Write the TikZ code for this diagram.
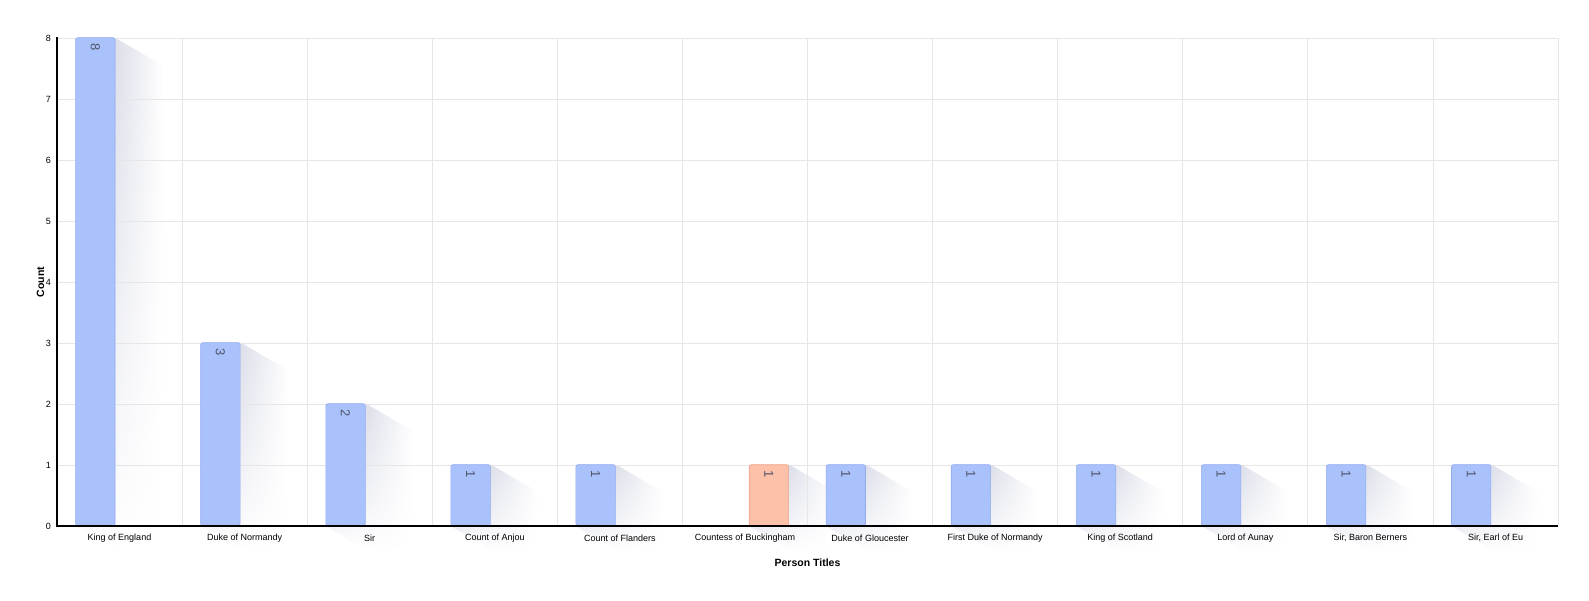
\documentclass[tikz,border=0pt]{standalone}
\usepackage{fontspec}
\setmainfont{Liberation Sans}
\usetikzlibrary{fadings}
\pgfdeclarelayer{background}
\pgfsetlayers{background,main}
\definecolor{barblue}{RGB}{170,194,252}
\definecolor{barblueline}{RGB}{147,171,238}
\definecolor{barorange}{RGB}{253,192,168}
\definecolor{barorangeline}{RGB}{238,166,140}
\definecolor{shadowcol}{RGB}{190,194,214}
\definecolor{gridcol}{RGB}{230,230,230}
\definecolor{valuecol}{RGB}{80,85,105}
\begin{document}
\begin{tikzpicture}
[x=1pt,y=-1pt,
  bardecorate/.style={draw=barblueline,fill=barblue,line width=0.6pt,rounded corners=2pt,
    minimum width=39.4pt,anchor=south,inner sep=0pt},
  orangedecorate/.style={bardecorate,draw=barorangeline,fill=barorange},
  shadowdecorate/.style={top color=shadowcol,bottom color=white,path fading=east},
  griddecorate/.style={draw=gridcol,line width=0.7pt},
  axisdecorate/.style={draw=black,line width=1.2pt},
  valuedecorate/.style={rotate=-90,inner sep=0pt,text=valuecol,font=\fontsize{13}{13}\selectfont},
  ticklabel/.style={inner sep=0pt,font=\fontsize{9}{9}\selectfont},
  titledecorate/.style={inner sep=0pt,font=\fontsize{10.5}{10.5}\selectfont\bfseries}]
\useasboundingbox (0,0) rectangle (1589,601);
% bars
\node (b1) at (95.3,526) [bardecorate,minimum height=488pt] {};
\node (b2) at (220.4,526) [bardecorate,minimum height=183pt] {};
\node (b3) at (345.5,526) [bardecorate,minimum height=122pt] {};
\node (b4) at (470.6,526) [bardecorate,minimum height=61pt] {};
\node (b5) at (595.6,526) [bardecorate,minimum height=61pt] {};
\node (b6) at (768.9,526) [orangedecorate,minimum height=61pt] {};
\node (b7) at (845.8,526) [bardecorate,minimum height=61pt] {};
\node (b8) at (970.9,526) [bardecorate,minimum height=61pt] {};
\node (b9) at (1096.0,526) [bardecorate,minimum height=61pt] {};
\node (b10) at (1221.1,526) [bardecorate,minimum height=61pt] {};
\node (b11) at (1346.1,526) [bardecorate,minimum height=61pt] {};
\node (b12) at (1471.2,526) [bardecorate,minimum height=61pt] {};
\begin{pgfonlayer}{background}
% shadows behind the bars
\shade[shadowdecorate] (b1.north east) -- ++(48,28) -- ([shift={(48,28)}]b1.south east) -- ([shift={(48,28)}]b1.south west) -- (b1.south west) -- cycle;
\shade[shadowdecorate] (b2.north east) -- ++(48,28) -- ([shift={(48,28)}]b2.south east) -- ([shift={(48,28)}]b2.south west) -- (b2.south west) -- cycle;
\shade[shadowdecorate] (b3.north east) -- ++(48,28) -- ([shift={(48,28)}]b3.south east) -- ([shift={(48,28)}]b3.south west) -- (b3.south west) -- cycle;
\shade[shadowdecorate] (b4.north east) -- ++(48,28) -- ([shift={(48,28)}]b4.south east) -- ([shift={(48,28)}]b4.south west) -- (b4.south west) -- cycle;
\shade[shadowdecorate] (b5.north east) -- ++(48,28) -- ([shift={(48,28)}]b5.south east) -- ([shift={(48,28)}]b5.south west) -- (b5.south west) -- cycle;
\shade[shadowdecorate] (b6.north east) -- ++(48,28) -- ([shift={(48,28)}]b6.south east) -- ([shift={(48,28)}]b6.south west) -- (b6.south west) -- cycle;
\shade[shadowdecorate] (b7.north east) -- ++(48,28) -- ([shift={(48,28)}]b7.south east) -- ([shift={(48,28)}]b7.south west) -- (b7.south west) -- cycle;
\shade[shadowdecorate] (b8.north east) -- ++(48,28) -- ([shift={(48,28)}]b8.south east) -- ([shift={(48,28)}]b8.south west) -- (b8.south west) -- cycle;
\shade[shadowdecorate] (b9.north east) -- ++(48,28) -- ([shift={(48,28)}]b9.south east) -- ([shift={(48,28)}]b9.south west) -- (b9.south west) -- cycle;
\shade[shadowdecorate] (b10.north east) -- ++(48,28) -- ([shift={(48,28)}]b10.south east) -- ([shift={(48,28)}]b10.south west) -- (b10.south west) -- cycle;
\shade[shadowdecorate] (b11.north east) -- ++(48,28) -- ([shift={(48,28)}]b11.south east) -- ([shift={(48,28)}]b11.south west) -- (b11.south west) -- cycle;
\shade[shadowdecorate] (b12.north east) -- ++(48,28) -- ([shift={(48,28)}]b12.south east) -- ([shift={(48,28)}]b12.south west) -- (b12.south west) -- cycle;
% grid lines
\path[griddecorate] (57,38) -- (1558,38) (57,99) -- (1558,99) (57,160) -- (1558,160)
  (57,221) -- (1558,221) (57,282) -- (1558,282) (57,343) -- (1558,343)
  (57,404) -- (1558,404) (57,465) -- (1558,465);
\path[griddecorate] (182.1,38) -- (182.1,526) (307.2,38) -- (307.2,526) (432.3,38) -- (432.3,526)
  (557.3,38) -- (557.3,526) (682.4,38) -- (682.4,526) (807.5,38) -- (807.5,526)
  (932.6,38) -- (932.6,526) (1057.7,38) -- (1057.7,526) (1182.8,38) -- (1182.8,526)
  (1307.8,38) -- (1307.8,526) (1432.9,38) -- (1432.9,526) (1558,38) -- (1558,526);
\end{pgfonlayer}
% axes
\draw[axisdecorate] (57,37.4) -- (57,526) -- (1558,526);
% values
\node [valuedecorate] at ([yshift=-10pt]b1.north) {8};
\node [valuedecorate] at ([yshift=-10pt]b2.north) {3};
\node [valuedecorate] at ([yshift=-10pt]b3.north) {2};
\node [valuedecorate] at ([yshift=-10pt]b4.north) {1};
\node [valuedecorate] at ([yshift=-10pt]b5.north) {1};
\node [valuedecorate] at ([yshift=-10pt]b6.north) {1};
\node [valuedecorate] at ([yshift=-10pt]b7.north) {1};
\node [valuedecorate] at ([yshift=-10pt]b8.north) {1};
\node [valuedecorate] at ([yshift=-10pt]b9.north) {1};
\node [valuedecorate] at ([yshift=-10pt]b10.north) {1};
\node [valuedecorate] at ([yshift=-10pt]b11.north) {1};
\node [valuedecorate] at ([yshift=-10pt]b12.north) {1};
% y tick labels
\node (y0) [ticklabel,anchor=east] at (51,526) {0};
\node (y1) [ticklabel,anchor=east] at (51,465) {1};
\node (y2) [ticklabel,anchor=east] at (51,404) {2};
\node (y3) [ticklabel,anchor=east] at (51,343) {3};
\node (y4) [ticklabel,anchor=east] at (51,282) {4};
\node (y5) [ticklabel,anchor=east] at (51,221) {5};
\node (y6) [ticklabel,anchor=east] at (51,160) {6};
\node (y7) [ticklabel,anchor=east] at (51,99) {7};
\node (y8) [ticklabel,anchor=east] at (51,38) {8};
% x tick labels
\node (x1) [ticklabel] at (119.5,538) {King of England};
\node (x2) [ticklabel] at (244.6,538) {Duke of Normandy};
\node (x3) [ticklabel] at (369.7,538) {Sir};
\node (x4) [ticklabel] at (494.8,538) {Count of Anjou};
\node (x5) [ticklabel] at (619.9,538) {Count of Flanders};
\node (x6) [ticklabel] at (745.0,538) {Countess of Buckingham};
\node (x7) [ticklabel] at (870.0,538) {Duke of Gloucester};
\node (x8) [ticklabel] at (995.1,538) {First Duke of Normandy};
\node (x9) [ticklabel] at (1120.2,538) {King of Scotland};
\node (x10) [ticklabel] at (1245.3,538) {Lord of Aunay};
\node (x11) [ticklabel] at (1370.4,538) {Sir, Baron Berners};
\node (x12) [ticklabel] at (1495.5,538) {Sir, Earl of Eu};
% axis titles
\node (ytitle) [titledecorate,rotate=90] at (40.5,282) {Count};
\node (xtitle) [titledecorate] at (807.5,563) {Person Titles};
\end{tikzpicture}
\end{document}
